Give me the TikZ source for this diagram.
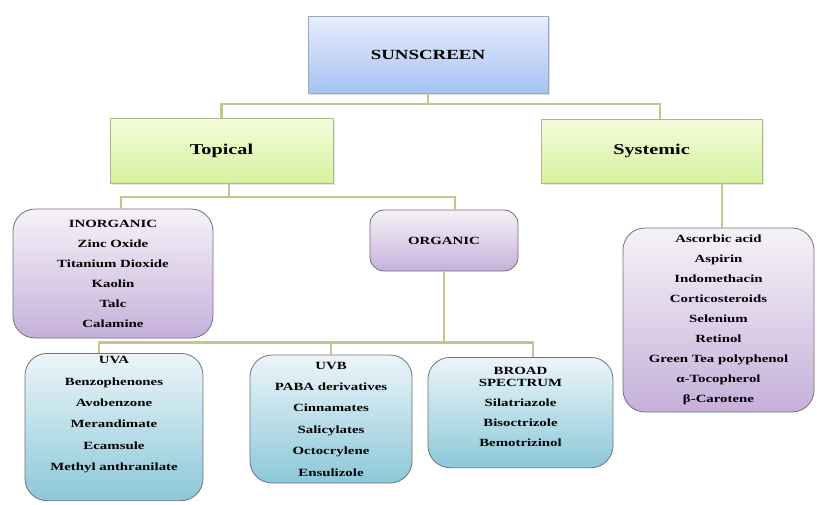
\documentclass[tikz,border=0pt]{standalone}
\usepackage{fontspec}
\setmainfont{Liberation Serif}[FakeStretch=1.35]
\usetikzlibrary{shadows}
\definecolor{sunTop}{HTML}{E8EEFD}
\definecolor{sunBot}{HTML}{A6C2F4}
\definecolor{sunEdge}{HTML}{9AA6BE}
\definecolor{limeTop}{HTML}{F4FCDC}
\definecolor{limeBot}{HTML}{D6F29E}
\definecolor{limeEdge}{HTML}{A9B88E}
\definecolor{lilaTop}{HTML}{F6F2F8}
\definecolor{lilaBot}{HTML}{C6B0DA}
\definecolor{cyanTop}{HTML}{ECF5F9}
\definecolor{cyanBot}{HTML}{8CC8D8}
\definecolor{boxEdge}{HTML}{6E727C}
\definecolor{linkCol}{HTML}{C4C68E}
\tikzset{head/.style = {draw=sunEdge, top color=sunTop, bottom color=sunBot, font=\bfseries\fontsize{14}{16}\selectfont, drop shadow={opacity=0.25, shadow xshift=1.5pt, shadow yshift=-1.5pt}}}
\tikzset{kind/.style = {draw=limeEdge, top color=limeTop, bottom color=limeBot, font=\bfseries\fontsize{15}{17}\selectfont, drop shadow={opacity=0.2, shadow xshift=1.5pt, shadow yshift=-1.5pt}}}
\tikzset{lila/.style = {draw=boxEdge, thick, rounded corners=22pt, top color=lilaTop, bottom color=lilaBot, align=center, font=\bfseries\fontsize{11}{20}\selectfont}}
\tikzset{cyan/.style = {draw=boxEdge, thick, rounded corners=22pt, top color=cyanTop, bottom color=cyanBot, align=center, font=\bfseries\fontsize{11}{21.4}\selectfont}}
\tikzset{link/.style = {draw=linkCol, line width=2.2pt}}

\begin{document}
\begin{tikzpicture}[x=1pt, y=-1pt]
  \useasboundingbox (0,0) rectangle (817,504);
  \node[head, minimum width=240pt, minimum height=77pt] (sun) at (428,54.5) {SUNSCREEN};
  \node[kind, minimum width=223pt, minimum height=65pt] (top) at (221.5,150.5) {Topical};
  \node[kind, minimum width=221pt, minimum height=64pt] (sys) at (651.5,151) {Systemic};
  \node[lila, minimum width=200pt, minimum height=129pt] (inorg) at (113,273.5)
    {INORGANIC\\Zinc Oxide\\Titanium Dioxide\\Kaolin\\Talc\\Calamine};
  \node[lila, rounded corners=14pt, minimum width=148pt, minimum height=61pt] (org) at (444,240.5)
    {ORGANIC};
  \node[lila, minimum width=191pt, minimum height=184pt] (syslist) at (718.5,320)
    {Ascorbic acid\\Aspirin\\Indomethacin\\Corticosteroids\\Selenium\\Retinol\\Green Tea polyphenol\\α-Tocopherol\\β-Carotene};
  \node[cyan, anchor=north, inner ysep=3pt, text depth=27pt, minimum width=178pt] (uva) at (114,353)
    {UVA\\Benzophenones\\Avobenzone\\Merandimate\\Ecamsule\\Methyl anthranilate};
  \node[cyan, minimum width=162pt, minimum height=128pt] (uvb) at (331,419)
    {UVB\\PABA derivatives\\Cinnamates\\Salicylates\\Octocrylene\\Ensulizole};
  \node[cyan, anchor=north, inner ysep=9.5pt, text depth=12pt, minimum width=185pt, font=\bfseries\fontsize{11}{20}\selectfont] (broad) at (520.5,357)
    {BROAD\\[-8pt]SPECTRUM\\Silatriazole\\Bisoctrizole\\Bemotrizinol};
  \draw[link] (sun.south) -- ++(0,11) coordinate (j1);
  \draw[link] (top.north) |- (j1) -| ([xshift=8.5pt]sys.north);
  \draw[link] ([xshift=7.5pt]top.south) -- ++(0,14) coordinate (j2);
  \draw[link] ([xshift=8pt]inorg.north) |- (j2) -| ([xshift=11pt]org.north);
  \draw[link] ([xshift=3.5pt]syslist.north) -- ([xshift=3.5pt]syslist.north |- sys.south);
  \draw[link] (org.south) -- ++(0,71) coordinate (j3);
  \draw[link] ([xshift=-15pt]uva.north) |- (j3) -| ([xshift=12.5pt]broad.north);
  \draw[link] (uvb.north) -- (uvb.north |- j3);
\end{tikzpicture}
\end{document}
